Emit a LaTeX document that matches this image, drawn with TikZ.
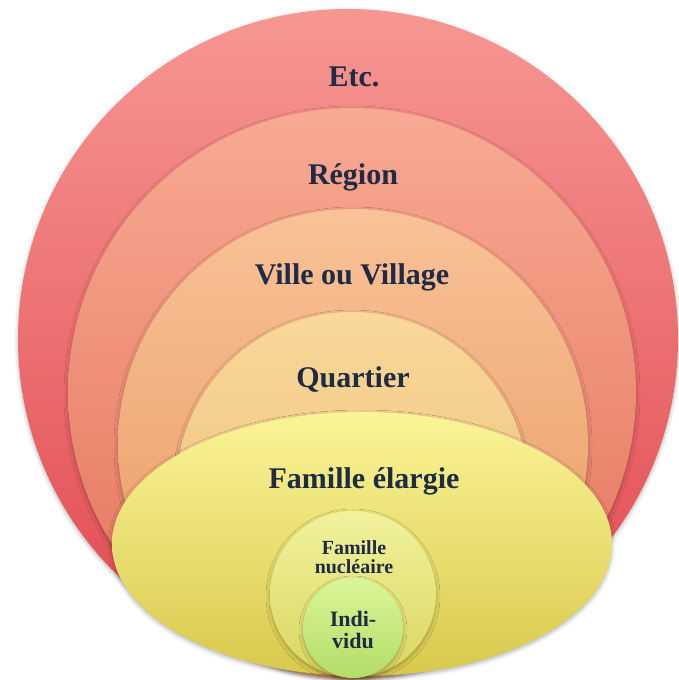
\documentclass[tikz,border=0pt]{standalone}
\usepackage{fontspec}
\setmainfont{Liberation Serif}
\usetikzlibrary{shadows.blur}
\definecolor{txt}{HTML}{1F2A44}
\definecolor{etcT}{HTML}{F79792}
\definecolor{etcB}{HTML}{E0474F}
\definecolor{regT}{HTML}{F8AA93}
\definecolor{regB}{HTML}{E3725A}
\definecolor{vilT}{HTML}{F9C297}
\definecolor{vilB}{HTML}{E7975E}
\definecolor{quaT}{HTML}{F9D89B}
\definecolor{quaB}{HTML}{EABA70}
\definecolor{famT}{HTML}{FBF497}
\definecolor{famB}{HTML}{D8C94C}
\definecolor{nucT}{HTML}{F2F29E}
\definecolor{nucB}{HTML}{D9D65E}
\definecolor{indT}{HTML}{DBF698}
\definecolor{indB}{HTML}{B3DC68}
\tikzset{
  layer/.style={blur shadow={shadow xshift=0pt, shadow yshift=-2pt, shadow blur radius=4pt, shadow opacity=30}},
  bigtxt/.style={text=txt, font=\fontsize{30}{30}\selectfont\bfseries, inner sep=0pt},
  midtxt/.style={text=txt, font=\fontsize{20}{19}\selectfont\bfseries, align=center, inner sep=0pt},
  smalltxt/.style={text=txt, font=\fontsize{22}{22}\selectfont\bfseries, align=center, inner sep=0pt}
}
\begin{document}
\begin{tikzpicture}[x=1pt,y=-1pt]
\useasboundingbox (0,0) rectangle (679,680);
% concentric layers
\path[layer, top color=etcT, bottom color=etcB] (348,339) circle (330);
\path[layer, top color=regT, bottom color=regB] (352,392) circle (284);
\path[layer, top color=vilT, bottom color=vilB] (353,444) circle (235);
\path[layer, top color=quaT, bottom color=quaB] (352,488) circle (176);
\path[layer, top color=famT, bottom color=famB] (362,544) ellipse [x radius=250, y radius=132];
\path[layer, top color=nucT, bottom color=nucB] (353,594) circle (83);
\path[layer, top color=indT, bottom color=indB] (353,628) circle (50);
% labels
\node[bigtxt] (etc) at (354,77) {Etc.};
\node[bigtxt] (reg) at (353,177) {Région};
\node[bigtxt] (vil) at (352,277) {Ville ou Village};
\node[bigtxt] (qua) at (353,380) {Quartier};
\node[bigtxt] (fam) at (364,481) {Famille élargie};
\node[midtxt] (nuc) at (354,557) {Famille\\nucléaire};
\node[smalltxt] (ind) at (353,630) {Indi-\\vidu};
\end{tikzpicture}
\end{document}
